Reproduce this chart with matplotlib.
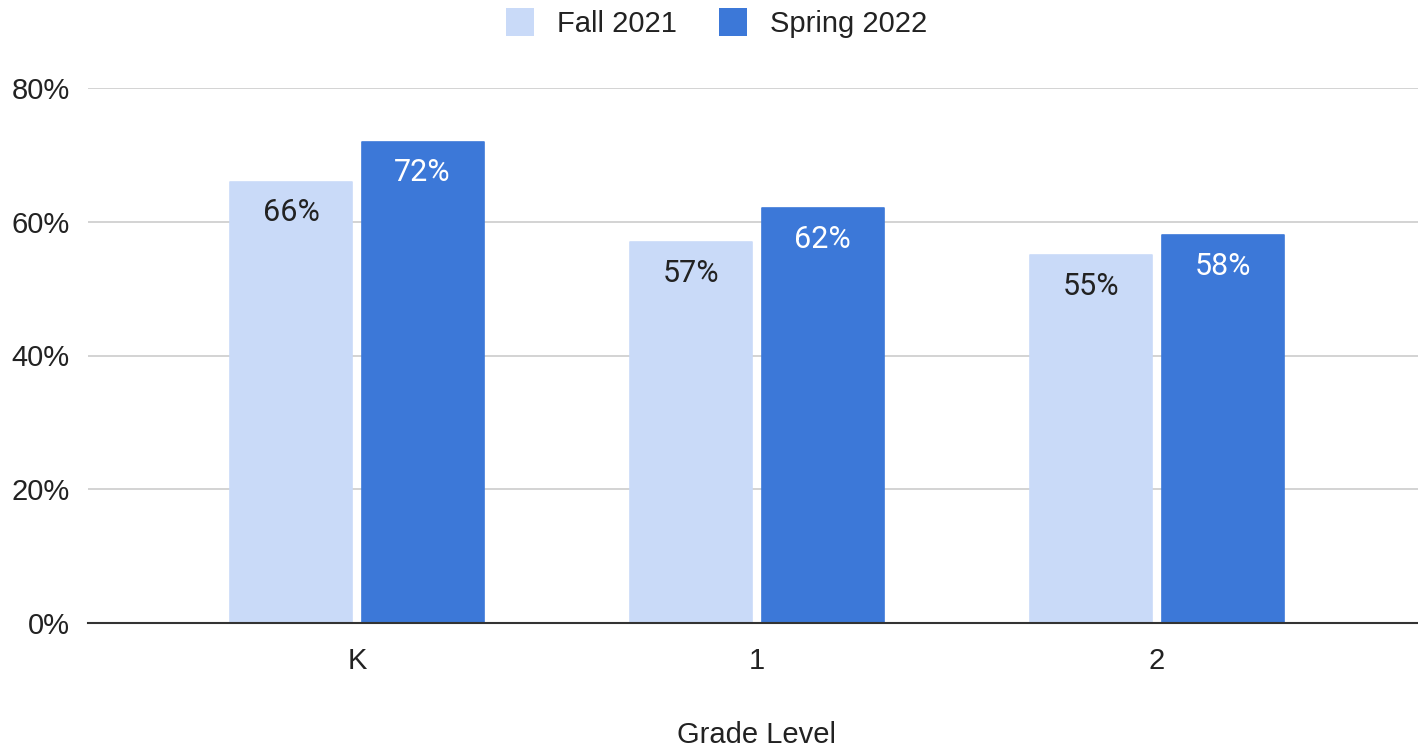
import matplotlib
matplotlib.use("Agg")
import matplotlib.pyplot as plt
from matplotlib.patches import Patch
import numpy as np

categories = ["K", "1", "2"]
series_names = ["Fall 2021", "Spring 2022"]
fall_2021 = [0.66, 0.57, 0.55]
spring_2022 = [0.72, 0.62, 0.58]
y_ticks = [0, 0.2, 0.4, 0.6, 0.8]
y_tick_labels = ["0%", "20%", "40%", "60%", "80%"]

light = "#c9daf8"
dark = "#3c78d8"
fsz = 21
lsz = 22
base_font = ["Liberation Sans", "DejaVu Sans"]
label_font = ["Roboto", "DejaVu Sans"]

fig = plt.figure(figsize=(14.18, 7.49), dpi=100)
ax = fig.add_axes([88/1418, 1-623/749, 1-88/1418, (623-88)/749])

x = np.arange(len(categories))
w = 0.305
off = 0.164
b1 = ax.bar(x - off, fall_2021, width=w, color=light, edgecolor=light, linewidth=1.2,
            joinstyle="round", zorder=2)
b2 = ax.bar(x + off, spring_2022, width=w, color=dark, edgecolor=dark, linewidth=1.2,
            joinstyle="round", zorder=2)

for bars, vals, tc in ((b1, fall_2021, "#222222"), (b2, spring_2022, "white")):
    for rect, v in zip(bars, vals):
        ax.annotate(f"{round(v*100)}%", (rect.get_x() + rect.get_width()/2, v),
                    xytext=(0, -22.5), textcoords="offset points",
                    ha="center", va="center", fontsize=lsz, color=tc,
                    family=label_font, zorder=3)

ax.set_xlim(-0.6725, 2.6525)
ax.set_ylim(0, 0.8)
ax.set_yticks(y_ticks)
ax.set_yticklabels(y_tick_labels, family=base_font, fontsize=fsz, color="#222222")
ax.set_xticks(x)
ax.set_xticklabels(categories, family=base_font, fontsize=fsz, color="#222222")
ax.tick_params(axis="both", length=0)
ax.tick_params(axis="y", pad=13)
ax.tick_params(axis="x", pad=17)
ax.yaxis.grid(True, color="#cccccc", linewidth=1.2, zorder=0)
ax.set_axisbelow(True)
for s in ["top", "right", "left"]:
    ax.spines[s].set_visible(False)
ax.spines["bottom"].set_color("#333333")
ax.spines["bottom"].set_linewidth(1.5)
ax.spines["bottom"].set_zorder(4)

fig.text(757/1418, 1-735/749, "Grade Level", ha="center", va="center",
         family=base_font, fontsize=fsz, color="#222222")

handles = [Patch(facecolor=light, edgecolor="none"), Patch(facecolor=dark, edgecolor="none")]
leg = fig.legend(handles, series_names, loc="center", bbox_to_anchor=(717/1418, 1-23/749),
                 ncol=2, frameon=False, prop={"family": base_font, "size": fsz},
                 handlelength=0.95, handleheight=1.1, handletextpad=0.8, columnspacing=1.45,
                 borderpad=0, borderaxespad=0)
for t in leg.get_texts():
    t.set_color("#222222")

fig.savefig("out.png", dpi=100)
